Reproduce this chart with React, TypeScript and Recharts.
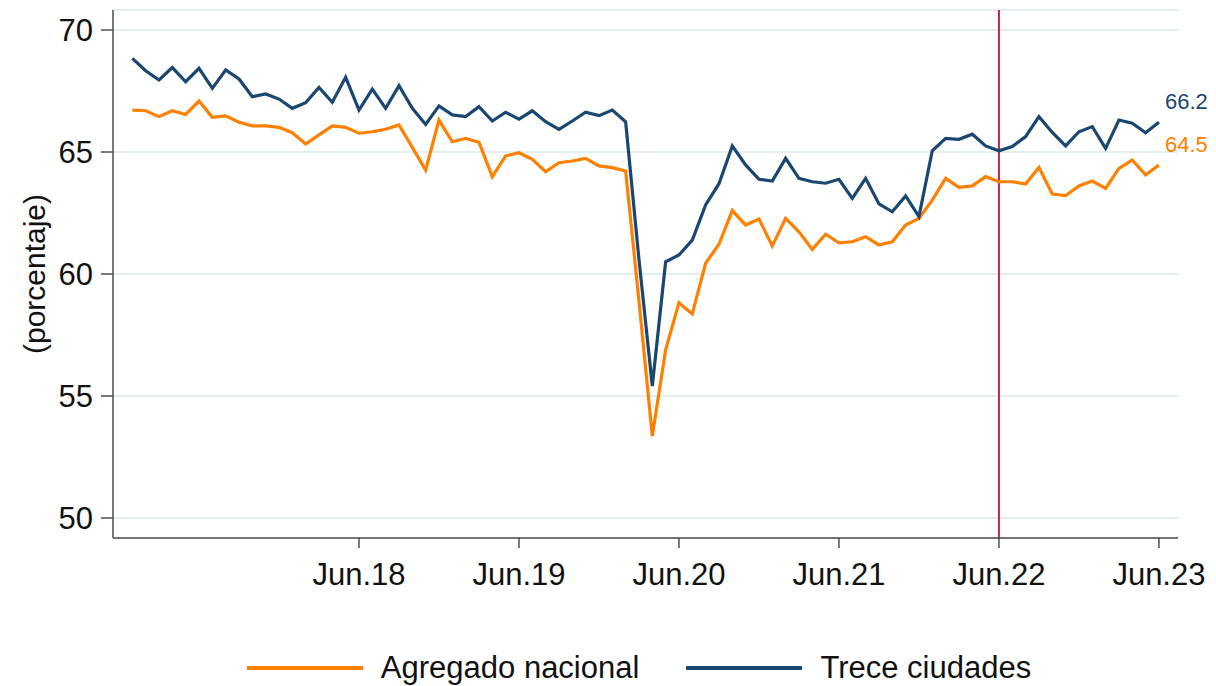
import React from 'react';
import {
  LineChart,
  Line,
  XAxis,
  YAxis,
  CartesianGrid,
  ReferenceLine,
  Legend,
  LabelList,
} from 'recharts';

// Monthly series, Jan.17 (index 0) to Jun.23 (index 77)
const agregadoNacional = [
  66.72, 66.69, 66.45, 66.69, 66.54, 67.09, 66.42, 66.48, 66.22, 66.07,
  66.07, 66.01, 65.79, 65.33, 65.7, 66.07, 66.01, 65.77, 65.83, 65.93,
  66.11, 65.19, 64.26, 66.31, 65.42, 65.56, 65.4, 63.99, 64.84, 64.97,
  64.7, 64.19, 64.56, 64.63, 64.74, 64.43, 64.36, 64.22, 58.9, 53.36,
  56.89, 58.82, 58.36, 60.44, 61.22, 62.6, 62.01, 62.25, 61.15, 62.28,
  61.73, 61.01, 61.63, 61.28, 61.32, 61.53, 61.19, 61.32, 62.01, 62.28,
  63.03, 63.92, 63.55, 63.61, 63.99, 63.78, 63.78, 63.69, 64.37, 63.28,
  63.21, 63.61, 63.81, 63.51, 64.33, 64.67, 64.06, 64.47,
];

const treceCiudades = [
  68.84, 68.33, 67.95, 68.46, 67.88, 68.43, 67.61, 68.36, 67.99, 67.27,
  67.38, 67.17, 66.79, 67.02, 67.65, 67.04, 68.06, 66.72, 67.58, 66.79,
  67.72, 66.79, 66.13, 66.89, 66.52, 66.45, 66.86, 66.27, 66.63, 66.35,
  66.69, 66.24, 65.93, 66.27, 66.63, 66.49, 66.72, 66.24, 60.6, 55.41,
  60.5, 60.78, 61.39, 62.83, 63.7, 65.25, 64.47, 63.88, 63.81, 64.74,
  63.92, 63.78, 63.72, 63.88, 63.1, 63.92, 62.87, 62.55, 63.2, 62.35,
  65.05, 65.56, 65.52, 65.73, 65.25, 65.05, 65.22, 65.63, 66.45, 65.8,
  65.25, 65.83, 66.04, 65.15, 66.31, 66.18, 65.79, 66.22,
];

const xTickPositions = [17, 29, 41, 53, 65, 77];
const xTickLabels = ['Jun.18', 'Jun.19', 'Jun.20', 'Jun.21', 'Jun.22', 'Jun.23'];
const yTicks = [50, 55, 60, 65, 70];
const markerMonth = 65; // Jun.22

const seriesNames = ['Agregado nacional', 'Trece ciudades'];
const ORANGE = '#ff8000';
const NAVY = '#1a476f';
const FONT = '"Liberation Sans", Arial, sans-serif';

const data = agregadoNacional.map((v, i) => ({
  m: i,
  agregado: v,
  trece: treceCiudades[i],
}));

const makeEndLabel = (color: string) => (props: any) => {
  const { x, y, index, value } = props;
  if (index !== data.length - 1) return null;
  return (
    <text
      x={x + 6}
      y={y - 19}
      fill={color}
      fontSize={22}
      fontFamily={FONT}
      dominantBaseline="middle"
    >
      {Number(value).toFixed(1)}
    </text>
  );
};

const LegendContent = () => (
  <div
    style={{
      display: 'flex',
      justifyContent: 'center',
      alignItems: 'center',
      height: 40,
      fontFamily: FONT,
      fontSize: 31,
      color: '#111',
      paddingLeft: 54,
    }}
  >
    {[ORANGE, NAVY].map((c, k) => (
      <div key={k} style={{ display: 'flex', alignItems: 'center', marginRight: k === 0 ? 47 : 0 }}>
        <svg width={116} height={6} style={{ marginRight: 18 }}>
          <line x1={0} y1={3} x2={116} y2={3} stroke={c} strokeWidth={4} />
        </svg>
        <span>{seriesNames[k]}</span>
      </div>
    ))}
  </div>
);

export default function App() {
  return (
    <LineChart
      width={1208}
      height={678}
      data={data}
      margin={{ top: 2, right: 38, bottom: 48, left: 0 }}
      style={{ fontFamily: FONT }}
    >
      <CartesianGrid horizontal vertical={false} stroke="#e4eef1" strokeWidth={2} />
      <XAxis
        dataKey="m"
        type="number"
        domain={[-1.45, 78.43]}
        allowDataOverflow
        ticks={xTickPositions}
        tickFormatter={(v: number) => xTickLabels[xTickPositions.indexOf(v)]}
        height={60}
        tickSize={10}
        tickMargin={15}
        stroke="#4d4d4d"
        strokeWidth={1.5}
        tick={{ fill: '#111', fontSize: 31, fontFamily: FONT }}
      />
      <YAxis
        domain={[49.18, 70.82]}
        allowDataOverflow
        ticks={yTicks}
        width={105}
        tickSize={12}
        tickMargin={8}
        stroke="#4d4d4d"
        strokeWidth={1.5}
        tick={{ fill: '#111', fontSize: 31, fontFamily: FONT }}
        label={{
          value: '(porcentaje)',
          angle: -90,
          position: 'insideLeft',
          offset: 26,
          style: { textAnchor: 'middle', fill: '#111', fontSize: 30, fontFamily: FONT },
        }}
      />
      <ReferenceLine x={markerMonth} stroke="#c8234c" strokeWidth={2} />
      <Line
        type="linear"
        dataKey="agregado"
        name={seriesNames[0]}
        stroke={ORANGE}
        strokeWidth={3.2}
        dot={false}
        isAnimationActive={false}
      >
        <LabelList dataKey="agregado" content={makeEndLabel(ORANGE)} />
      </Line>
      <Line
        type="linear"
        dataKey="trece"
        name={seriesNames[1]}
        stroke={NAVY}
        strokeWidth={3.2}
        dot={false}
        isAnimationActive={false}
      >
        <LabelList dataKey="trece" content={makeEndLabel(NAVY)} />
      </Line>
      <Legend
        verticalAlign="bottom"
        content={<LegendContent />}
        wrapperStyle={{ top: 640, left: 0, width: 1208, height: 40 }}
      />
    </LineChart>
  );
}
